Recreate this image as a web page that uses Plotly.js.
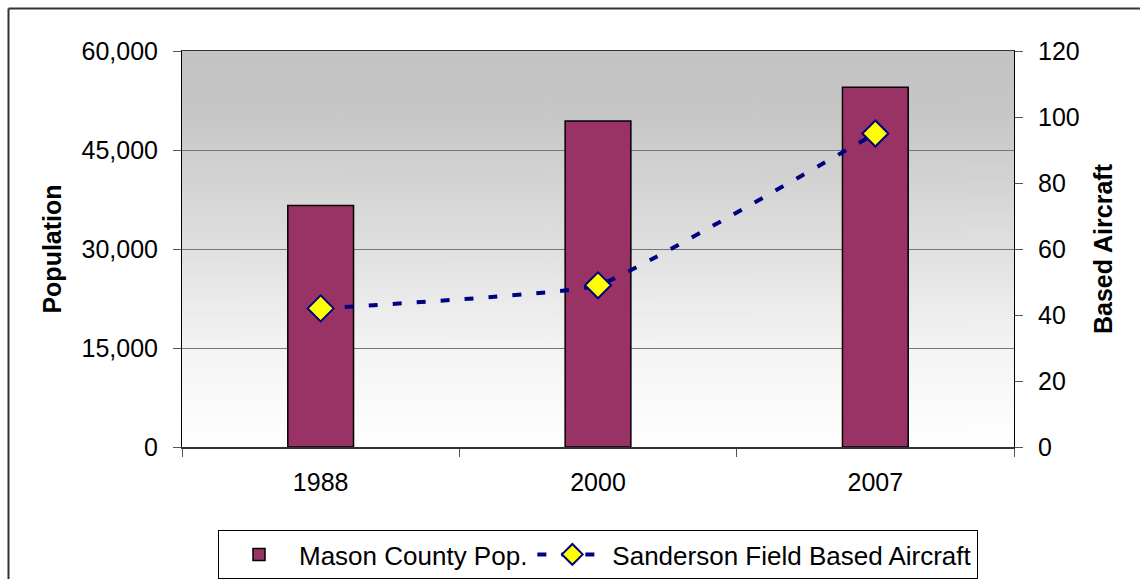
<!DOCTYPE html>
<html>
<head>
<meta charset="utf-8">
<script src="https://cdn.plot.ly/plotly-3.0.1.min.js"></script>
<style>
html, body { margin: 0; padding: 0; background: #ffffff; }
#chart { width: 1140px; height: 579px; }
</style>
</head>
<body>
<div id="chart"></div>
<script>
// ---- data ----
const categories = ['1988', '2000', '2007'];
const populationValues = [36600, 49400, 54500];
const aircraftValues = [42, 49, 95];
const populationTicks = [0, 15000, 30000, 45000, 60000];
const aircraftTicks = [0, 20, 40, 60, 80, 100, 120];
const seriesNames = ['Mason County Pop.', 'Sanderson Field Based Aircraft'];
const axisTitles = ['Population', 'Based Aircraft'];

// ---- geometry ----
const W = 1140, H = 579;
const M = { l: 182, r: 126, t: 51, b: 132, autoexpand: false };
const PW = W - M.l - M.r, PH = H - M.t - M.b;
const px = X => (X - M.l) / PW;
const py = Y => (H - M.b - Y) / PH;

// background gradient for plot area
function gradientImage() {
  const c = document.createElement('canvas');
  c.width = 8; c.height = 400;
  const g = c.getContext('2d');
  const gr = g.createLinearGradient(0, 0, 0, 400);
  gr.addColorStop(0, '#c3c3c3');
  gr.addColorStop(0.15, '#c6c6c6');
  gr.addColorStop(0.5, '#e0e0e0');
  gr.addColorStop(0.75, '#f4f4f4');
  gr.addColorStop(1, '#ffffff');
  g.fillStyle = gr;
  g.fillRect(0, 0, 8, 400);
  return c.toDataURL('image/png');
}

const FONT = 'Liberation Sans, Arial, sans-serif';

const traces = [
  {
    type: 'bar',
    name: seriesNames[0],
    x: categories,
    y: populationValues,
    width: 0.237,
    marker: { color: '#993366', line: { color: '#000000', width: 1.5 } },
    yaxis: 'y'
  },
  {
    type: 'scatter',
    name: seriesNames[1],
    x: categories,
    y: aircraftValues,
    yaxis: 'y2',
    mode: 'lines+markers',
    line: { shape: 'spline', smoothing: 0.3, color: '#000080', width: 4, dash: '9px,15px' },
    marker: { symbol: 'diamond', size: 20, color: '#ffff00', line: { color: '#000080', width: 2 } }
  }
];

const layout = {
  width: W, height: H,
  margin: M,
  paper_bgcolor: '#ffffff',
  plot_bgcolor: 'rgba(0,0,0,0)',
  font: { family: FONT, color: '#000000', size: 24 },
  showlegend: true,
  xaxis: {
    type: 'category',
    tickson: 'boundaries',
    ticks: 'outside', ticklen: 8, tickwidth: 1, tickcolor: '#555555',
    showline: true, linecolor: '#333333', linewidth: 1.5, mirror: true,
    showgrid: false, zeroline: false,
    tickfont: { family: FONT, size: 25, color: '#000000' },
    ticklabelstandoff: 12,
    fixedrange: true
  },
  yaxis: {
    range: [0, 60000],
    tickvals: populationTicks,
    tickformat: ',d',
    ticks: 'outside', ticklen: 8, tickwidth: 1, tickcolor: '#555555',
    showline: true, linecolor: '#000000', linewidth: 1,
    showgrid: true, gridcolor: '#777777', gridwidth: 1,
    zeroline: false,
    tickfont: { family: FONT, size: 25, color: '#000000' },
    ticklabelstandoff: 10,
    title: { text: '<b>' + axisTitles[0] + '</b>', font: { family: FONT, size: 25, color: '#000000' }, standoff: 12 },
    fixedrange: true
  },
  yaxis2: {
    overlaying: 'y', side: 'right',
    range: [0, 120],
    tickvals: aircraftTicks,
    ticks: 'outside', ticklen: 8, tickwidth: 1, tickcolor: '#555555',
    showline: true, linecolor: '#000000', linewidth: 1,
    showgrid: false, zeroline: false,
    tickfont: { family: FONT, size: 25, color: '#000000' },
    ticklabelstandoff: 10,
    title: { text: '<b>' + axisTitles[1] + '</b>', font: { family: FONT, size: 25, color: '#000000' }, standoff: 15 },
    fixedrange: true
  },
  legend: {
    orientation: 'h',
    x: 0.5, xanchor: 'center',
    y: py(530), yanchor: 'top',
    bgcolor: '#ffffff', bordercolor: '#000000', borderwidth: 1,
    font: { family: FONT, size: 26, color: '#000000' },
    itemwidth: 70,
    traceorder: 'normal'
  },
  images: [{
    source: gradientImage(),
    xref: 'paper', yref: 'paper',
    x: 0, y: 1, sizex: 1, sizey: 1,
    xanchor: 'left', yanchor: 'top',
    sizing: 'stretch', layer: 'below'
  }],
  shapes: [
    { type: 'line', xref: 'paper', yref: 'paper', x0: px(8.5), y0: py(600), x1: px(8.5), y1: py(8.5),
      line: { color: '#333333', width: 2 } },
    { type: 'line', xref: 'paper', yref: 'paper', x0: px(8.5), y0: py(8.5), x1: px(1160), y1: py(8.5),
      line: { color: '#333333', width: 2 } }
  ]
};

Plotly.newPlot('chart', traces, layout, { staticPlot: true, displayModeBar: false });
</script>
</body>
</html>
